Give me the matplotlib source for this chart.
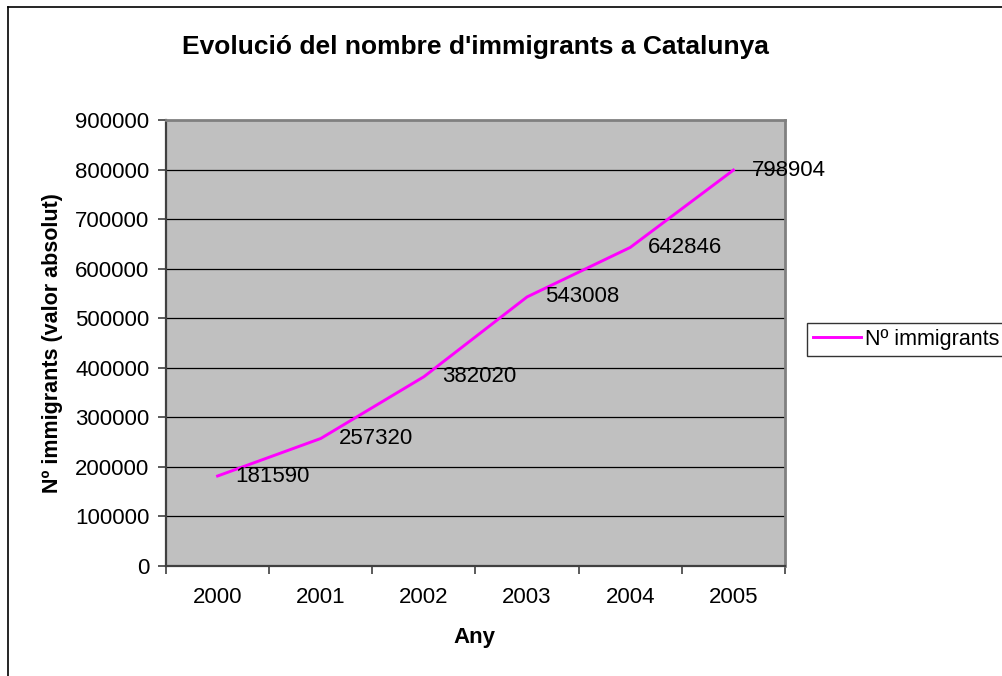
import matplotlib
matplotlib.use('Agg')
import matplotlib.pyplot as plt
from matplotlib.lines import Line2D

plt.rcParams['font.family'] = ['Liberation Sans', 'DejaVu Sans']

years = ['2000', '2001', '2002', '2003', '2004', '2005']
immigrants = [181590, 257320, 382020, 543008, 642846, 798904]
yticks = [0, 100000, 200000, 300000, 400000, 500000, 600000, 700000, 800000, 900000]

W, H = 1002, 676
fig = plt.figure(figsize=(W / 100, H / 100), dpi=100)

# chart border (left and top visible, rest runs off the image)
fig.add_artist(Line2D([8 / W, 8 / W], [0, 1 - 7 / H], color='black', lw=1.2, transform=fig.transFigure))
fig.add_artist(Line2D([8 / W, 1], [1 - 7 / H, 1 - 7 / H], color='black', lw=1.2, transform=fig.transFigure))

ax = fig.add_axes([166 / W, 1 - 566 / H, (785 - 166) / W, (566 - 120) / H])
ax.set_facecolor('#c0c0c0')

x = list(range(len(years)))
ax.plot(x, immigrants, color='#ff00ff', lw=2.1, label='Nº immigrants', zorder=3)

for xi, v in zip(x, immigrants):
    ax.annotate(str(v), (xi, v), xytext=(18, 0), textcoords='offset pixels',
                ha='left', va='center', fontsize=16, color='black', zorder=4,
                annotation_clip=False)

ax.set_xlim(-0.5, len(years) - 0.5)
ax.set_ylim(0, 900000)
ax.set_yticks(yticks)
ax.set_yticklabels([str(t) for t in yticks], fontsize=16)
ax.set_xticks([i - 0.5 for i in range(len(years) + 1)])
ax.set_xticklabels([])
ax.set_xticks(x, minor=True)
ax.set_xticklabels(years, minor=True, fontsize=16)
ax.tick_params(axis='x', which='minor', length=0, pad=15)
ax.tick_params(axis='x', which='major', length=6, width=1.2, color='#404040', direction='out')
ax.tick_params(axis='y', length=6, width=1.2, color='#404040', direction='out', pad=6)

for t in yticks[1:-1]:
    ax.axhline(t, color='black', lw=0.9, zorder=1)

for side in ['left', 'bottom']:
    ax.spines[side].set_color('#404040')
    ax.spines[side].set_linewidth(1.6)
for side in ['right', 'top']:
    ax.spines[side].set_color('#808080')
    ax.spines[side].set_linewidth(2)

fig.text(475 / W, 1 - 47 / H, "Evolució del nombre d'immigrants a Catalunya",
         ha='center', va='center', fontsize=19, fontweight='bold')
fig.text(474 / W, 1 - 637 / H, 'Any', ha='center', va='center', fontsize=16, fontweight='bold')
fig.text(53 / W, 1 - 343 / H, 'Nº immigrants (valor absolut)', ha='center', va='center',
         rotation=90, fontsize=15.5, fontweight='bold')

leg = ax.legend(loc='center left', bbox_to_anchor=(807 / W, 1 - 339.5 / H),
                bbox_transform=fig.transFigure, fontsize=15.5, frameon=True,
                fancybox=False, edgecolor='black', handlelength=2.2,
                handletextpad=0.2, borderpad=0.3, borderaxespad=0)
leg.get_frame().set_linewidth(1)

fig.savefig('out.png', dpi=100)
